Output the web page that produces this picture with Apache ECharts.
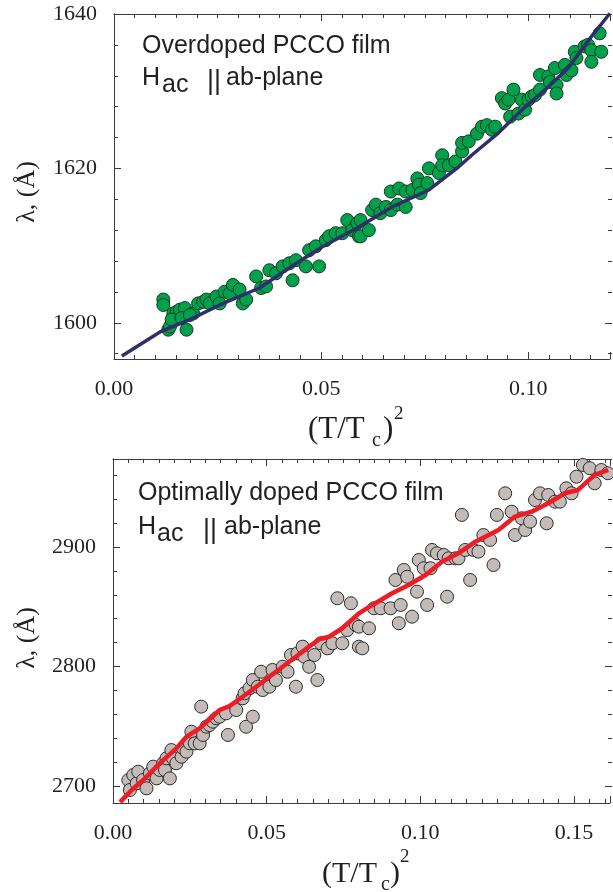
<!DOCTYPE html>
<html><head><meta charset="utf-8">
<script src="https://cdn.jsdelivr.net/npm/echarts@6/dist/echarts.min.js"></script>
<style>html,body{margin:0;padding:0;background:#fff}#c{width:613px;height:892px}</style>
</head><body><div id="c"></div>
<script>
// ---------- DATA ----------
// Top panel: overdoped PCCO film, [ (T/Tc)^2 , lambda (Å) ]
const topPoints = [
 [0.0119,1603.0],[0.0119,1602.3],[0.0131,1599.1],[0.0135,1599.5],[0.0143,1601.2],[0.0151,1601.4],[0.0159,1601.7],[0.0171,1601.9],
 [0.0175,1599.1],[0.0191,1601.2],[0.0203,1602.5],[0.0215,1602.7],[0.0223,1603.0],[0.0231,1602.5],[0.0247,1603.4],[0.0255,1602.5],
 [0.0267,1604.0],[0.0279,1603.8],[0.0287,1604.9],[0.0303,1604.3],[0.0311,1602.5],[0.0319,1603.0],[0.0343,1606.0],[0.0355,1604.5],
 [0.0367,1604.7],[0.0375,1606.8],[0.0391,1606.4],[0.0407,1607.3],[0.0423,1607.7],[0.0431,1605.5],[0.0439,1608.1],[0.0463,1607.3],
 [0.0471,1609.4],[0.0487,1609.9],[0.0495,1607.3],[0.0511,1610.7],[0.0519,1611.2],[0.0535,1611.6],[0.0551,1611.6],[0.0563,1613.3],
 [0.0575,1612.0],[0.0587,1612.9],[0.0591,1611.2],[0.0139,1600.4],[0.0163,1600.6],[0.0183,1601.0],
 [0.0595,1613.3],[0.0595,1611.2],[0.0615,1612.0],[0.0623,1614.6],[0.0632,1615.3],[0.0643,1614.2],[0.0656,1615.0],[0.0668,1614.6],
 [0.0684,1615.3],[0.0704,1615.0],[0.0668,1617.0],[0.0688,1617.4],[0.0704,1617.0],[0.0720,1617.2],[0.0732,1618.7],[0.0736,1617.9],
 [0.0740,1616.8],[0.0756,1618.1],[0.0760,1620.0],[0.0784,1619.4],[0.0792,1621.7],[0.0792,1620.4],[0.0808,1620.4],[0.0824,1620.9],
 [0.0840,1622.2],[0.0840,1623.3],[0.0856,1623.5],[0.0876,1624.5],[0.0888,1625.4],[0.0900,1625.6],[0.0912,1625.0],[0.0920,1625.4],
 [0.0936,1629.1],[0.0944,1628.4],[0.0952,1628.9],[0.0956,1626.7],[0.0964,1630.2],[0.0976,1627.1],[0.0984,1628.9],[0.0992,1627.6],
 [0.1000,1628.9],[0.1008,1629.3],[0.1016,1629.5],[0.1028,1630.2],[0.1028,1632.1],[0.1048,1631.9],[0.1052,1631.2],[0.1064,1633.0],
 [0.1068,1630.8],[0.1068,1629.7],[0.1088,1633.4],[0.1092,1632.1],[0.1104,1632.7],[0.1112,1635.1],[0.1116,1634.3],[0.1136,1635.8],
 [0.1144,1636.0],[0.1152,1635.3],[0.1152,1633.8],[0.1172,1637.5],[0.1176,1635.1]
];
const topFit = [
 [0.0019,1595.7],[0.0111,1598.8],[0.0183,1600.4],[0.0255,1602.3],[0.0351,1604.5],[0.0440,1607.7],[0.0502,1609.8],[0.0591,1612.4],
 [0.0671,1615.0],[0.0760,1617.2],[0.0832,1620.2],[0.0863,1621.7],[0.0928,1624.6],[0.0993,1628.0],[0.1041,1630.2],[0.1096,1633.0],
 [0.1151,1637.0],[0.1197,1640.1]
];
// Bottom panel: optimally doped PCCO film
const bottomPoints = [
 [0.0050,2705.0],[0.0055,2696.7],[0.0066,2709.2],[0.0077,2702.3],[0.0082,2712.0],[0.0098,2705.0],[0.0109,2698.1],[0.0120,2710.6],
 [0.0131,2716.2],[0.0142,2706.4],[0.0152,2713.4],[0.0163,2719.0],[0.0169,2713.4],[0.0185,2706.4],[0.0174,2723.2],[0.0190,2730.1],
 [0.0195,2723.2],[0.0206,2719.0],[0.0223,2724.5],[0.0228,2731.5],[0.0239,2728.7],[0.0250,2735.7],[0.0255,2745.4],[0.0266,2735.7],
 [0.0282,2735.7],[0.0287,2766.4],[0.0293,2742.7],[0.0304,2749.6],[0.0314,2751.0],[0.0325,2753.8],[0.0336,2756.7],[0.0347,2758.0],
 [0.0368,2760.8],[0.0374,2742.7],[0.0401,2763.6],[0.0422,2773.4],[0.0428,2777.6],[0.0433,2749.6],[0.0455,2758.0],[0.0444,2781.8],
 [0.0455,2788.7],[0.0471,2783.1],[0.0482,2795.6],[0.0487,2780.3],[0.0509,2783.1],[0.0519,2797.1],[0.0530,2788.7],[0.0552,2799.8],
 [0.0568,2795.6],[0.0579,2809.6],[0.0595,2783.1],[0.0600,2811.0],[0.0617,2816.6],[0.0622,2808.2],[0.0638,2799.8],[0.0655,2809.6],
 [0.0665,2788.7],[0.0676,2819.4],[0.0698,2815.2],[0.0714,2819.4],[0.0730,2857.1],[0.0746,2819.4],[0.0762,2830.5],[0.0774,2852.9],
 [0.0790,2834.7],[0.0800,2816.6],
 [0.0800,2833.3],[0.0811,2815.2],[0.0833,2832.0],[0.0849,2848.7],[0.0871,2848.7],[0.0903,2848.7],[0.0919,2872.4],[0.0930,2836.2],
 [0.0936,2851.5],[0.0946,2880.8],[0.0957,2875.1],[0.0973,2841.7],[0.0989,2862.6],[0.0995,2889.1],[0.1011,2882.2],[0.1022,2851.5],
 [0.1033,2882.2],[0.1038,2897.5],[0.1054,2894.7],[0.1076,2893.3],[0.1087,2858.4],[0.1092,2890.5],[0.1114,2890.5],[0.1124,2890.5],
 [0.1135,2926.8],[0.1146,2897.5],[0.1162,2872.4],[0.1173,2897.5],[0.1189,2896.1],[0.1205,2910.0],[0.1227,2905.9],[0.1238,2884.9],
 [0.1249,2926.8],[0.1276,2944.9],[0.1297,2929.5],[0.1308,2910.0],[0.1330,2924.0],[0.1341,2914.2],[0.1357,2921.2],[0.1373,2939.3],
 [0.1389,2944.9],[0.1411,2919.8],[0.1416,2943.5],[0.1438,2937.9],[0.1454,2937.9],[0.1475,2949.1],[0.1492,2944.9],[0.1508,2958.8],
 [0.1529,2968.6],[0.1551,2965.9],[0.1567,2953.3],[0.1589,2964.4],[0.1610,2961.7]
];
const bottomFit = [
 [0.0023,2686.5],[0.0061,2696.7],[0.0098,2705.0],[0.0152,2719.0],[0.0206,2731.5],[0.0239,2741.3],[0.0282,2748.3],[0.0347,2763.6],
 [0.0379,2766.9],[0.0422,2774.7],[0.0466,2783.1],[0.0509,2791.5],[0.0552,2799.8],[0.0595,2808.2],[0.0638,2816.6],[0.0671,2822.8],
 [0.0703,2824.9],[0.0746,2832.0],[0.0800,2844.5],[0.0844,2851.5],[0.0908,2861.3],[0.0962,2868.2],[0.1017,2876.6],[0.1070,2887.7],
 [0.1124,2894.7],[0.1179,2904.4],[0.1254,2914.2],[0.1308,2925.4],[0.1362,2929.5],[0.1416,2936.6],[0.1470,2944.9],[0.1513,2947.7],
 [0.1567,2960.3],[0.1611,2964.4]
];
// Tick labels
const topXTickValues = [0, 0.05, 0.10];
const topXTickLabels = ['0.00', '0.05', '0.10'];
const topYTickLabels = ['1600', '1620', '1640'];
const bottomXTickValues = [0, 0.05, 0.10, 0.15];
const bottomXTickLabels = ['0.00', '0.05', '0.10', '0.15'];
const bottomYTickLabels = ['2700', '2800', '2900'];
// Axis ranges
const topXMax = 0.1197, topYMin = 1595.3, topYMax = 1640;
const botXMax = 0.1617, botYMin = 2685.8, botYMax = 2973.6;

// ---------- STYLE ----------
const AX = '#3a3a3a', TXT = '#231f20';
const SERIF = '"Liberation Serif","Times New Roman",serif';
const SANS = '"Liberation Sans",Arial,sans-serif';

function fmtFrom(vals, labels) {
  return function (v) {
    for (let i = 0; i < vals.length; i++) if (Math.abs(v - vals[i]) < 1e-7) return labels[i];
    return '';
  };
}
function xAx(gi, max, step, len, pos, line, labels) {
  return {
    type: 'value', gridIndex: gi, position: pos, min: 0, max: max, interval: step,
    axisLine: { show: line, lineStyle: { color: AX, width: 1 } },
    axisTick: { show: true, inside: true, length: len, lineStyle: { color: AX, width: 1 } },
    splitLine: { show: false },
    axisLabel: labels ? { show: true, margin: 19, color: TXT, fontSize: 22, fontFamily: SERIF, formatter: labels } : { show: false }
  };
}
function yAx(gi, min, max, step, len, pos, line, labels) {
  const a = {
    type: 'value', gridIndex: gi, position: pos, min: min, max: max,
    axisLine: { show: line, lineStyle: { color: AX, width: 1 } },
    axisTick: { show: step != null, inside: true, length: len, lineStyle: { color: AX, width: 1 } },
    splitLine: { show: false },
    axisLabel: labels ? { show: true, margin: 17, color: TXT, fontSize: 22, fontFamily: SERIF, formatter: labels } : { show: false }
  };
  if (step != null) a.interval = step;
  return a;
}
function hiddenX(gi) { return { type: 'value', gridIndex: gi, min: 0, max: 1, show: false }; }

const yTopFmt = function (v) { const i = [1600, 1620, 1640].indexOf(Math.round(v)); return i >= 0 ? topYTickLabels[i] : ''; };
const yBotFmt = function (v) { const i = [2700, 2800, 2900].indexOf(Math.round(v)); return i >= 0 ? bottomYTickLabels[i] : ''; };

const grids = [
  { left: 114, top: 14, width: 498, height: 345 },           // 0 top data
  { left: 114, top: 14, width: 498, height: 339.7 },         // 1 top y minor ticks (from 1596)
  { left: 114, top: 14, width: 498, height: 308.8 },         // 2 top y major ticks (from 1600)
  { left: 113, top: 459, width: 499, height: 344 },          // 3 bottom data
  { left: 113, top: 459, width: 499, height: 327 }           // 4 bottom y ticks (from 2700)
];

const xAxes = [
  xAx(0, topXMax, 0.005, 4, 'bottom', true, fmtFrom(topXTickValues, topXTickLabels)),
  xAx(0, topXMax, 0.005, 4, 'top', true, null),
  xAx(0, topXMax, 0.05, 7, 'bottom', false, null),
  xAx(0, topXMax, 0.05, 7, 'top', false, null),
  hiddenX(1), hiddenX(2),
  xAx(3, botXMax, 0.005, 4, 'bottom', true, fmtFrom(bottomXTickValues, bottomXTickLabels)),
  xAx(3, botXMax, 0.005, 4, 'top', true, null),
  xAx(3, botXMax, 0.05, 7, 'bottom', false, null),
  xAx(3, botXMax, 0.05, 7, 'top', false, null),
  hiddenX(4)
];
const yAxes = [
  yAx(0, topYMin, topYMax, null, 0, 'left', true, null),
  yAx(0, topYMin, topYMax, null, 0, 'right', true, null),
  yAx(1, 1596, topYMax, 4, 4, 'left', false, null),
  yAx(1, 1596, topYMax, 4, 4, 'right', false, null),
  yAx(2, 1600, topYMax, 20, 7, 'left', false, yTopFmt),
  yAx(2, 1600, topYMax, 20, 7, 'right', false, null),
  yAx(3, botYMin, botYMax, null, 0, 'left', true, null),
  yAx(3, botYMin, botYMax, null, 0, 'right', true, null),
  yAx(4, 2700, botYMax, 20, 4, 'left', false, null),
  yAx(4, 2700, botYMax, 20, 4, 'right', false, null),
  yAx(4, 2700, botYMax, 100, 7, 'left', false, yBotFmt),
  yAx(4, 2700, botYMax, 100, 7, 'right', false, null)
];

function txt(x, y, text, font, extra) {
  return Object.assign({ type: 'text', x: x, y: y, silent: true,
    style: { text: text, font: font, fill: TXT, textAlign: 'left', textVerticalAlign: 'middle', align: 'left', verticalAlign: 'middle' } }, extra || {});
}
const F25 = '25px ' + SANS;
const BARS = '27px ' + SANS;
const graphics = [
  txt(142, 46, 'Overdoped PCCO film', F25),
  txt(142, 78, 'H', F25), txt(162, 85, 'ac', F25), txt(207, 82, '||', BARS), txt(226, 78, 'ab-plane', F25),
  txt(138, 493, 'Optimally doped PCCO film', F25),
  txt(138, 527, 'H', F25), txt(157, 534, 'ac', F25), txt(203, 531, '||', BARS), txt(224, 527, 'ab-plane', F25),
  // x axis names
  txt(308, 430, '(T/T', '31px ' + SERIF), txt(372, 441, 'c', '20px ' + SERIF), txt(383, 430, ')', '31px ' + SERIF), txt(394, 414, '2', '19px ' + SERIF),
  txt(322, 874, '(T/T', '30px ' + SERIF), txt(381, 885, 'c', '20px ' + SERIF), txt(390, 874, ')', '30px ' + SERIF), txt(400, 857, '2', '19px ' + SERIF),
  // y axis names
  Object.assign(txt(27, 192, 'λ, (Å)', '26px ' + SERIF), { rotation: Math.PI / 2 }),
  Object.assign(txt(27, 638, 'λ, (Å)', '26px ' + SERIF), { rotation: Math.PI / 2 })
];
graphics.slice(-2).forEach(g => { g.style.textAlign = 'center'; g.style.align = 'center'; });

const chart = echarts.init(document.getElementById('c'), null, { renderer: 'canvas' });
chart.setOption({
  backgroundColor: '#ffffff',
  animation: false,
  grid: grids,
  xAxis: xAxes,
  yAxis: yAxes,
  graphic: graphics,
  series: [
    { type: 'scatter', xAxisIndex: 0, yAxisIndex: 0, data: topPoints, symbolSize: 13, z: 2,
      itemStyle: { color: '#00a14b', borderColor: '#173a22', borderWidth: 1, opacity: 1 } },
    { type: 'line', xAxisIndex: 0, yAxisIndex: 0, data: topFit, showSymbol: false, smooth: false, z: 3,
      lineStyle: { color: '#2e2f6b', width: 3.5 } },
    { type: 'scatter', xAxisIndex: 6, yAxisIndex: 6, data: bottomPoints, symbolSize: 13, z: 2,
      itemStyle: { color: '#c3bbb8', borderColor: '#2b2b2b', borderWidth: 1, opacity: 1 } },
    { type: 'line', xAxisIndex: 6, yAxisIndex: 6, data: bottomFit, showSymbol: false, smooth: false, z: 3,
      lineStyle: { color: '#ee1c25', width: 4.5 } }
  ]
});
</script></body></html>
